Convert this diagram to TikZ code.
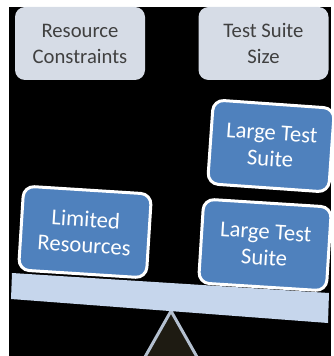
\documentclass[tikz,border=0pt]{standalone}
\usepackage{fontspec}
\setmainfont{Carlito}
\usepackage{tikz}

\tikzset{
  labelbox/.style={rounded corners=7.5pt, fill={rgb,255:red,214;green,220;blue,230},
    text={rgb,255:red,64;green,64;blue,64}, align=center,
    minimum width=97.5pt, minimum height=54.75pt, inner sep=0pt,
    font=\fontsize{15.5}{19.5}\selectfont},
  weightbox/.style={rounded corners=8pt, draw=white, line width=2.25pt,
    fill={rgb,255:red,79;green,129;blue,189}, text=white, align=center,
    minimum width=96pt, minimum height=63pt, inner sep=0pt,
    font=\fontsize{17}{19.5}\selectfont}
}

\begin{document}
\begin{tikzpicture}[x=0.75pt,y=0.75pt,yscale=-1,xscale=1]
\useasboundingbox (0,0) rectangle (334,356);
\clip (0,0) rectangle (334,356);
\fill [black] (9,7) rectangle (331,356);
% fulcrum and beam
\draw [fill={rgb, 255:red, 30; green, 27; blue, 18 }, draw={rgb, 255:red, 180; green, 192; blue, 208 }, line width=2.25pt, line join=round] (171,311) -- (141,364) -- (201,364) -- cycle ;
\fill [fill={rgb, 255:red, 198; green, 214; blue, 236 }] (12,273) -- (329,293) -- (328,323) -- (11,299) -- cycle ;
% labels on top
\node [labelbox] (constraints) at (80,43.5) {Resource\\Constraints};
\node [labelbox] (suitesize) at (263.5,43.5) {Test Suite\\Size};
% weights on the beam
\node [weightbox, rotate=-3.6] (limited) at (85,232) {Limited\\Resources};
\node [weightbox, rotate=-3.6] (largelow) at (265,245) {Large Test\\Suite};
\node [weightbox, rotate=-4, minimum width=91pt] (largeup) at (271,146) {Large Test\\Suite};
\end{tikzpicture}
\end{document}
